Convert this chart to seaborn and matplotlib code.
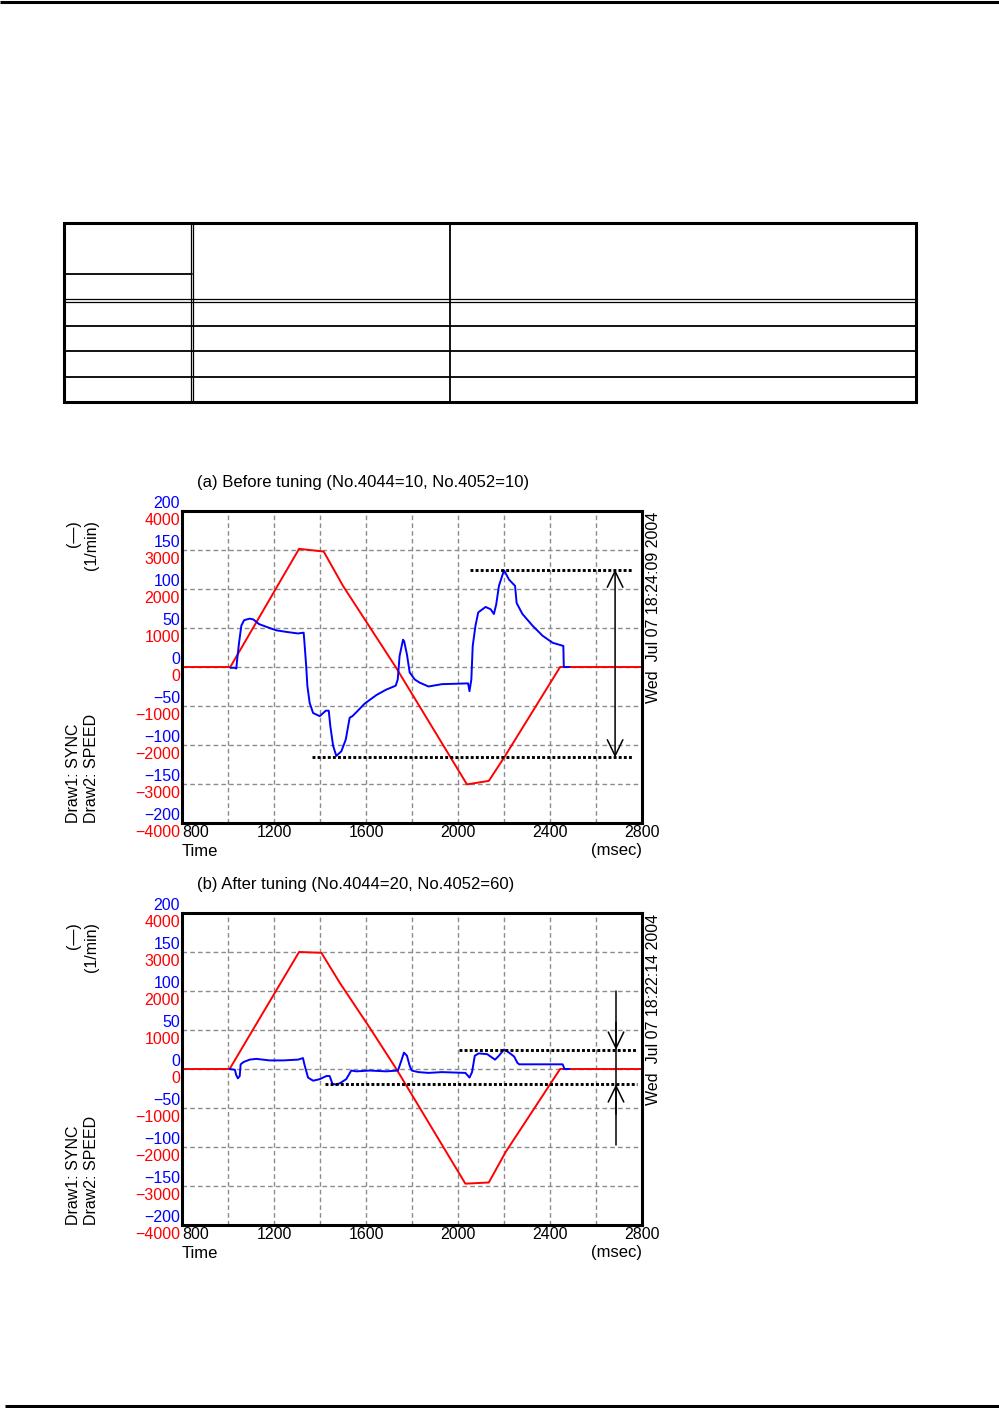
import matplotlib
matplotlib.use("Agg")
import matplotlib.pyplot as plt
import matplotlib.transforms as mtransforms
from matplotlib.patches import FancyArrowPatch, ArrowStyle
import pandas as pd
import seaborn as sns

# ---------------- data ----------------
x_ticks = [800, 1000, 1200, 1400, 1600, 1800, 2000, 2200, 2400, 2600, 2800]
x_tick_labels = ["800", "", "1200", "", "1600", "", "2000", "", "2400", "", "2800"]
red_ticks = [-4000, -3000, -2000, -1000, 0, 1000, 2000, 3000, 4000]
red_tick_labels = ["\u22124000", "\u22123000", "\u22122000", "\u22121000", "0",
                   "1000", "2000", "3000", "4000"]
blue_ticks = [-200, -150, -100, -50, 0, 50, 100, 150, 200]
blue_tick_labels = ["\u2212200", "\u2212150", "\u2212100", "\u221250", "0",
                    "50", "100", "150", "200"]

titles = ["(a) Before tuning (No.4044=10, No.4052=10)",
          "(b) After tuning (No.4044=20, No.4052=60)"]
stamps = ["Wed  Jul 07 18:24:09 2004", "Wed  Jul 07 18:22:14 2004"]

# (a) SPEED (red, 1/min)
time_a_red = [800, 1010, 1309, 1416, 1500, 1729, 2039, 2134, 2200, 2444, 2800]
speed_a = [0, 0, 3030, 2960, 2080, 0, -3010, -2920, -2325, 0, 0]
# (a) SYNC (blue)
time_a_blue = [1010, 1030, 1036, 1040, 1048, 1058, 1070, 1094, 1110, 1135,
               1181, 1210, 1254, 1304, 1329, 1333, 1340, 1345, 1355, 1370,
               1399, 1425, 1438, 1445, 1457, 1471, 1493, 1512, 1529, 1541,
               1558, 1594, 1645, 1688, 1729, 1738, 1746, 1761, 1766, 1778,
               1790, 1812, 1833, 1872, 1930, 2044, 2050, 2058, 2064, 2076,
               2088, 2120, 2142, 2156, 2166, 2178, 2200, 2222, 2248, 2255,
               2280, 2324, 2368, 2412, 2458, 2460, 2485]
sync_a = [-1, -1, -2, 10, 31, 53, 60, 62, 61, 55,
          50, 47, 45, 43, 44, 29, 1, -24, -46, -59,
          -63, -56, -56, -76, -101, -114, -108, -93, -65, -63,
          -58, -47, -36, -29, -24, -16, 14, 35, 33, 16,
          -7, -16, -20, -25, -22, -21, -31, -16, 27, 53,
          70, 77, 74, 68, 80, 104, 124, 112, 104, 82,
          68, 53, 40, 31, 27, 0, 0]

# (b) SPEED (red)
time_b_red = [800, 1007, 1309, 1406, 1486, 1616, 1732, 2032, 2134, 2207, 2444, 2800]
speed_b = [0, 0, 3000, 2980, 2210, 1060, 0, -2940, -2910, -2130, 0, 0]
# (b) SYNC (blue)
time_b_blue = [1007, 1030, 1036, 1043, 1051, 1055, 1068, 1094, 1123, 1181,
               1239, 1304, 1326, 1333, 1348, 1370, 1399, 1428, 1442, 1454,
               1471, 1488, 1514, 1536, 1558, 1616, 1688, 1739, 1754, 1765,
               1778, 1790, 1799, 1828, 1872, 1930, 2032, 2050, 2061, 2073,
               2090, 2127, 2161, 2178, 2200, 2222, 2244, 2258, 2266, 2339,
               2455, 2463, 2485]
sync_b = [0, -1, -8, -12, -9, 6, 9, 12, 13, 11,
          11, 12, 14, 5, -11, -15, -13, -9, -9, -19,
          -20, -18, -13, -2, -3, -2, -3, -2, 11, 21,
          17, 4, -2, -4, -5, -4, -5, -11, -4, 17,
          20, 19, 12, 17, 25, 21, 16, 8, 6, 6,
          6, 0, 0]

# peak-to-peak reference levels (SYNC units) and their extents (msec)
band_a_levels = [125, -116]
band_a_starts = [2052, 1364]
band_a_end = 2761
arrow_a_x = 2683
band_b_levels = [24.7, -19.6]
band_b_starts = [2004, 1422]
band_b_end = 2778
arrow_b_x = 2687
arrow_b_span = [100, -98]

# ---------------- style ----------------
sns.set_style("white")
plt.rcParams['font.family'] = ['Liberation Sans', 'DejaVu Sans']
plt.rcParams['font.size'] = 11
plt.rcParams['text.color'] = 'black'
plt.rcParams['xtick.color'] = 'black'
plt.rcParams['ytick.color'] = 'black'
plt.rcParams['xtick.labelcolor'] = 'black'

W, H = 999, 1408
fig = plt.figure(figsize=(W / 100, H / 100), dpi=100)

# overlay in pixel coordinates for page decoration and free text
ov = fig.add_axes([0, 0, 1, 1])
ov.set_xlim(0, W)
ov.set_ylim(H, 0)
ov.axis('off')

# page rules
ov.plot([0, W], [1.5, 1.5], color='black', lw=2.2, solid_capstyle='butt')
ov.plot([5, W], [1406, 1406], color='black', lw=2.2, solid_capstyle='butt')

# empty table
tl, tr, tt, tb = 64, 916, 223, 402
ov.plot([tl, tr, tr, tl, tl], [tt, tt, tb, tb, tt], color='black', lw=2.2,
        solid_joinstyle='miter')
for yy in [326, 351, 377]:
    ov.plot([tl, tr], [yy, yy], color='black', lw=1.3)
for yy in [298.8, 301.6]:
    ov.plot([tl, tr], [yy, yy], color='black', lw=0.9)
ov.plot([tl, 192], [274, 274], color='black', lw=1.3)
for xx in [190.6, 193.4]:
    ov.plot([xx, xx], [tt, tb], color='black', lw=0.9)
ov.plot([450, 450], [tt, tb], color='black', lw=1.3)

down = mtransforms.ScaledTranslation(0, -8 / 100, fig.dpi_scale_trans)
up = mtransforms.ScaledTranslation(0, 9 / 100, fig.dpi_scale_trans)


def panel(top, title, stamp, rt, rv, bt, bv):
    ax = fig.add_axes([182 / W, 1 - (top + 312) / H, 460 / W, 312 / H])
    df_r = pd.DataFrame({'t': rt, 'v': rv})
    df_b = pd.DataFrame({'t': bt, 'v': bv})
    sns.lineplot(data=df_r, x='t', y='v', ax=ax, color='#ff0000', lw=1.4,
                 estimator=None, sort=False)
    ax.set_ylim(-4000, 4000)
    ax.set_yticks(red_ticks)
    ax.set_yticklabels(red_tick_labels)
    ax.set_xlabel('')
    ax.set_ylabel('')
    ax.grid(True, color='#8c8c8c', lw=1.0, ls=(0, (3.3, 2.3)))
    ax.tick_params(length=0, pad=1.5, labelsize=11.5)
    ax.tick_params(axis='x', labelcolor='black')
    for lab in ax.get_yticklabels():
        lab.set_color('#ff0000')
        lab.set_transform(lab.get_transform() + down)
    for s in ax.spines.values():
        s.set_visible(True)
        s.set_linewidth(2.2)
        s.set_color('black')

    ax2 = ax.twinx()
    sns.lineplot(data=df_b, x='t', y='v', ax=ax2, color='#0000ff', lw=1.4,
                 estimator=None, sort=False)
    ax2.set_ylim(-200, 200)
    ax2.set_yticks(blue_ticks)
    ax2.set_yticklabels(blue_tick_labels)
    ax2.yaxis.tick_left()
    ax2.tick_params(length=0, pad=1.5, labelsize=11.5, labelleft=True, labelright=False)
    for lab in ax2.get_yticklabels():
        lab.set_color('#0000ff')
        lab.set_transform(lab.get_transform() + up)
    ax2.set_ylabel('')
    ax2.set_xlabel('')
    ax2.grid(False)
    for s in ax2.spines.values():
        s.set_visible(False)

    ax.set_xlim(800, 2800)
    ax.set_xticks(x_ticks)
    ax.set_xticklabels(x_tick_labels)
    ax.get_xticklabels()[0].set_ha('left')

    off = top - 511
    ov.text(197, 483 + off, title, ha='left', va='center', fontsize=12, color='black')
    ov.text(182, 852 + off, "Time", ha='left', va='center', fontsize=12, color='black')
    ov.text(642, 850 + off, "(msec)", ha='right', va='center', fontsize=12, color='black')
    ov.text(73, 520 + off, "(\u2014)", rotation=90, ha='center', va='top', fontsize=11.5, color='black')
    ov.text(92, 520 + off, "(1/min)", rotation=90, ha='center', va='top', fontsize=11.5, color='black')
    ov.text(73, 823 + off, "Draw1: SYNC", rotation=90, ha='center', va='bottom', fontsize=11.5, color='black')
    ov.text(92, 823 + off, "Draw2: SPEED", rotation=90, ha='center', va='bottom', fontsize=11.5, color='black')
    ov.text(653, 512 + off, stamp, rotation=90, ha='center', va='top', fontsize=11.5, color='black')
    return ax, ax2


dot = dict(color='black', lw=2.1, ls=(0, (1.0, 0.75)))
head = ArrowStyle('<->', head_length=11.5, head_width=5.6)
head1 = ArrowStyle('->', head_length=11.5, head_width=5.6)

# panel (a)
ax_a, ax2_a = panel(511, titles[0], stamps[0], time_a_red, speed_a, time_a_blue, sync_a)
for lvl, x0 in zip(band_a_levels, band_a_starts):
    ax2_a.plot([x0, band_a_end], [lvl, lvl], **dot)
ax2_a.add_patch(FancyArrowPatch((arrow_a_x, band_a_levels[1]), (arrow_a_x, band_a_levels[0]),
                                arrowstyle=head, mutation_scale=1, color='black', lw=1.1,
                                shrinkA=0, shrinkB=0))

# panel (b)
ax_b, ax2_b = panel(913, titles[1], stamps[1], time_b_red, speed_b, time_b_blue, sync_b)
for lvl, x0 in zip(band_b_levels, band_b_starts):
    ax2_b.plot([x0, band_b_end], [lvl, lvl], **dot)
ax2_b.plot([arrow_b_x, arrow_b_x], arrow_b_span, color='black', lw=1.1)
ax2_b.add_patch(FancyArrowPatch((arrow_b_x, arrow_b_span[0] - 40), (arrow_b_x, band_b_levels[0]),
                                arrowstyle=head1, mutation_scale=1, color='black', lw=1.1,
                                shrinkA=0, shrinkB=0))
ax2_b.add_patch(FancyArrowPatch((arrow_b_x, arrow_b_span[1] + 40), (arrow_b_x, band_b_levels[1]),
                                arrowstyle=head1, mutation_scale=1, color='black', lw=1.1,
                                shrinkA=0, shrinkB=0))

fig.savefig("out.png", dpi=100)
